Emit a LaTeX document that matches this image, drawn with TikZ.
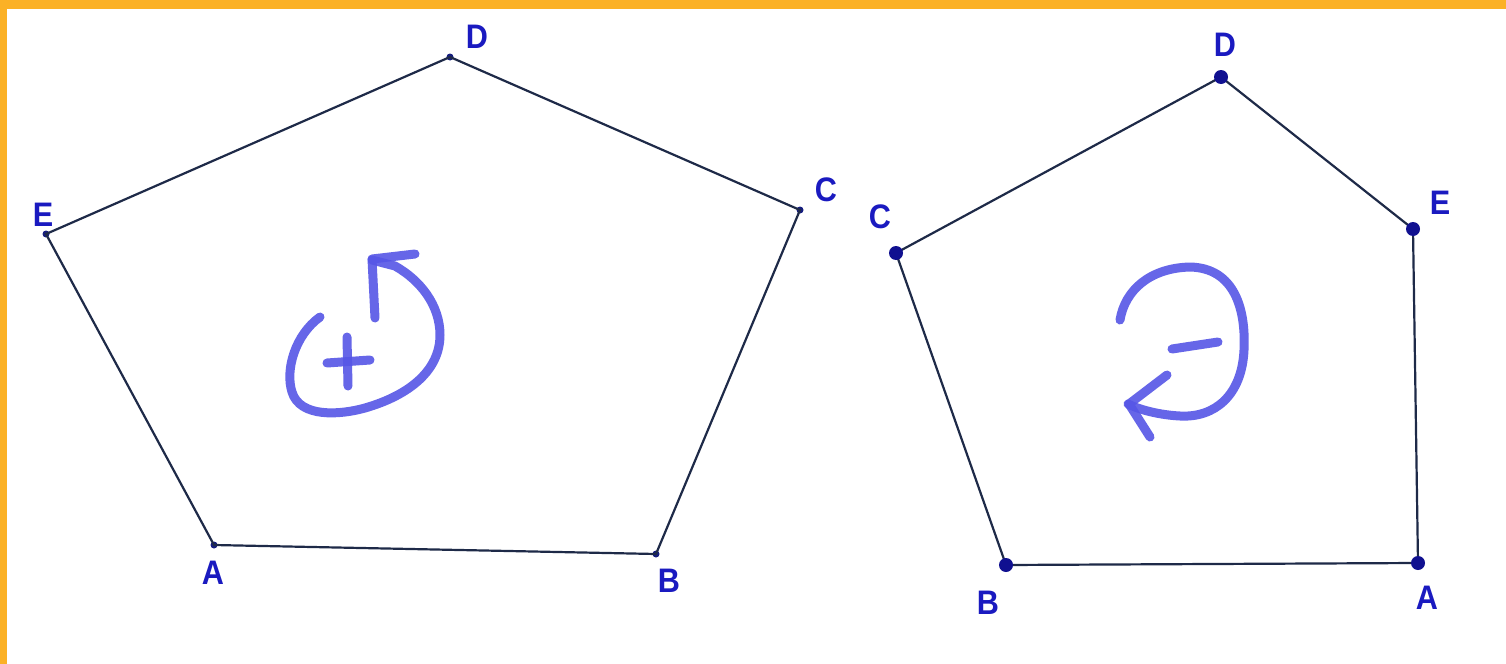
\documentclass[tikz,border=0pt]{standalone}
\usepackage{fontspec}
\setmainfont{Liberation Sans}
\begin{document}
\begin{tikzpicture}[x=0.5pt,y=-0.5pt,
  edge/.style={draw=edgecol,line width=1.1pt},
  smalldot/.style={circle,fill=edgecol!70!blue,inner sep=0pt,minimum size=3.5pt},
  bigdot/.style={circle,fill=dotcol,inner sep=0pt,minimum size=7pt},
  lbl/.style={text=lblcol,font=\fontsize{17}{17}\bfseries\selectfont,inner sep=0pt,xscale=0.9,transform shape},
  hand/.style={draw=handcol,line width=4.5pt,line cap=round,line join=round,opacity=0.9}]
\definecolor{edgecol}{HTML}{1E2A48}
\definecolor{dotcol}{HTML}{101090}
\definecolor{lblcol}{HTML}{1A1AC0}
\definecolor{handcol}{HTML}{5656E6}
\definecolor{bordercol}{HTML}{FBB126}
\useasboundingbox (0,0) rectangle (1506,664);
\fill[white] (0,0) rectangle (1506,664);
\fill[bordercol] (0,0) rectangle (1506,9);
\fill[bordercol] (0,0) rectangle (7,664);
% left pentagon
\node[smalldot] (lD) at (450,57) {};
\node[smalldot] (lC) at (800,210) {};
\node[smalldot] (lB) at (656,554) {};
\node[smalldot] (lA) at (214,545) {};
\node[smalldot] (lE) at (46,234) {};
\draw[edge] (lD.center) -- (lC.center) -- (lB.center) -- (lA.center) -- (lE.center) -- cycle;
\node[lbl] (tlD) at (477,37) {D};
\node[lbl] (tlC) at (826,190) {C};
\node[lbl] (tlB) at (669,581) {B};
\node[lbl] (tlA) at (213,573) {A};
\node[lbl] (tlE) at (43,215) {E};
% right pentagon
\coordinate (rD) at (1221,77);
\coordinate (rE) at (1413,229);
\coordinate (rA) at (1418,563);
\coordinate (rB) at (1006,565);
\coordinate (rC) at (896,253);
\draw[edge] (rD) -- (rE) -- (rA) -- (rB) -- (rC) -- cycle;
\foreach \p in {rD,rE,rA,rB,rC} \node[bigdot] at (\p) {};
\node[lbl] (trD) at (1225,45) {D};
\node[lbl] (trE) at (1440,203) {E};
\node[lbl] (trA) at (1427,598) {A};
\node[lbl] (trB) at (988,603) {B};
\node[lbl] (trC) at (880,217) {C};
% handwritten + rotation
\draw[hand] (320,317) .. controls (295,335) and (285,370) .. (292,392)
  .. controls (300,418) and (340,415) .. (365,408)
  .. controls (410,395) and (440,370) .. (440,335)
  .. controls (440,305) and (420,280) .. (395,266) -- (372,260);
\draw[hand] (415,254) -- (372,259) -- (375,318);
\draw[hand] (327,363) -- (370,360);
\draw[hand] (347,337) -- (348,386);
% handwritten - rotation
\draw[hand] (1120,320) .. controls (1125,290) and (1150,268) .. (1190,267)
  .. controls (1235,268) and (1246,310) .. (1244,350)
  .. controls (1242,395) and (1215,418) .. (1180,416)
  .. controls (1160,415) and (1140,410) .. (1128,404);
\draw[hand] (1167,375) -- (1129,404) -- (1150,437);
\draw[hand] (1172,349) -- (1218,342);
\end{tikzpicture}
\end{document}
